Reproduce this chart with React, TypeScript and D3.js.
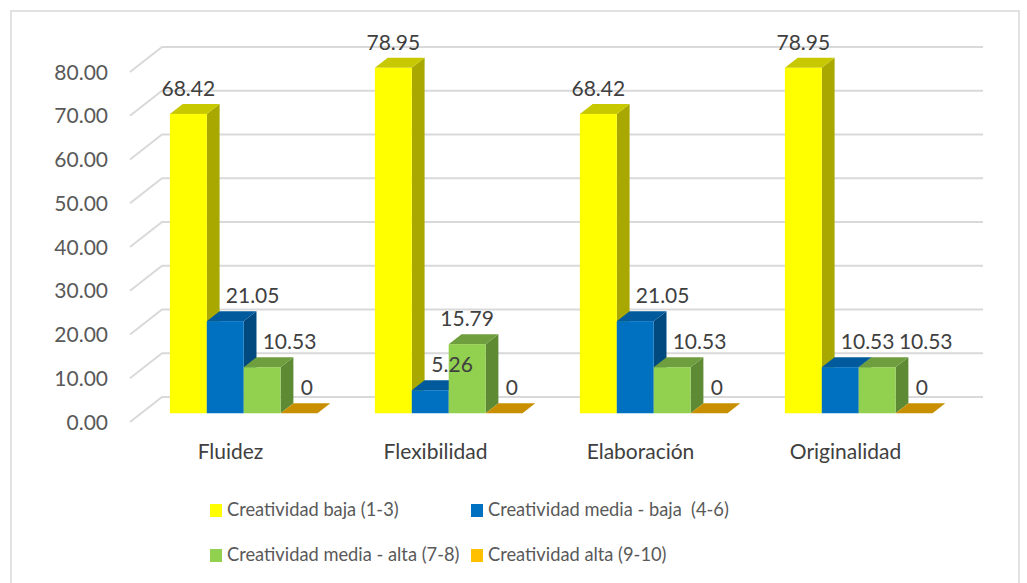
import React from 'react'
import * as d3 from 'd3'

const categories = ['Fluidez', 'Flexibilidad', 'Elaboración', 'Originalidad']
const seriesNames = [
  'Creatividad baja (1-3)',
  'Creatividad media - baja  (4-6)',
  'Creatividad media - alta (7-8)',
  'Creatividad alta (9-10)',
]
const baja = [68.42, 78.95, 68.42, 78.95]
const mediaBaja = [21.05, 5.26, 21.05, 10.53]
const mediaAlta = [10.53, 15.79, 10.53, 10.53]
const alta = [0, 0, 0, 0]
const yTicks = [0, 10, 20, 30, 40, 50, 60, 70, 80]

const seriesValues = [baja, mediaBaja, mediaAlta, alta]
const colors = [
  { front: '#FFFF00', side: '#A8A800', top: '#C8C800' },
  { front: '#0070C0', side: '#004A80', top: '#005A9C' },
  { front: '#92D050', side: '#5E8A34', top: '#6F9E3E' },
  { front: '#FFC000', side: '#A07800', top: '#C89000' },
]

const W = 1027
const H = 583
const plotLeft = 130
const plotRight = 950
const depthX = 32
const depthY = -25
const barFront = 0.35
const barDepth = 0.4
const fontFam = 'Lato, "Open Sans", sans-serif'
const labelSize = 21

export default function App() {
  const y = d3.scaleLinear().domain([0, 80]).range([422, 72])
  const x = d3.scaleBand<string>().domain(categories).range([plotLeft, plotRight]).paddingInner(0.28).paddingOuter(0.14)
  const xs = d3.scaleBand<number>().domain([0, 1, 2, 3]).range([0, x.bandwidth()])

  const fx = barFront * depthX
  const fy = barFront * depthY
  const bx = barDepth * depthX
  const by = barDepth * depthY
  const charW = labelSize * 0.53

  const bars: React.ReactNode[] = []
  const labels: React.ReactNode[] = []

  categories.forEach((cat, ci) => {
    let prev: { right: number; top: number; lRight: number; lTop: number; lBottom: number } | null = null
    seriesValues.forEach((vals, si) => {
      const v = vals[ci]
      const x0 = (x(cat) ?? 0) + xs(si)! + fx
      const x1 = x0 + xs.bandwidth()
      const yb = y(0) + fy
      const yt = y(v) + fy
      const c = colors[si]
      bars.push(
        <g key={`b${ci}-${si}`}>
          {v > 0 && (
            <polygon
              points={`${x1},${yb} ${x1 + bx},${yb + by} ${x1 + bx},${yt + by} ${x1},${yt}`}
              fill={c.side}
            />
          )}
          <polygon
            points={`${x0},${yt} ${x1},${yt} ${x1 + bx},${yt + by} ${x0 + bx},${yt + by}`}
            fill={c.top}
          />
          {v > 0 && <rect x={x0} y={yt} width={x1 - x0} height={yb - yt} fill={c.front} />}
        </g>
      )

      // data label: centred over the bar, pushed right to clear the neighbour on its left
      const text = v === 0 ? '0' : v.toFixed(2)
      const tw = text.length * charW - (text.includes('.') ? charW * 0.5 : 0)
      const base = yt + by - 8
      const lTop = base - labelSize * 0.72
      let left = (x0 + x1) / 2 - tw / 2
      if (prev) {
        if (prev.top < base) left = Math.max(left, prev.right + 8)
        const vOverlap = !(base < prev.lTop || lTop > prev.lBottom)
        if (vOverlap) left = Math.max(left, prev.lRight + 8)
      }
      labels.push(
        <text key={`l${ci}-${si}`} x={left + tw / 2} y={base} textAnchor="middle" fontSize={labelSize} fill="#404040" fontFamily={fontFam}>
          {text}
        </text>
      )
      prev = { right: x1 + bx, top: yt + by, lRight: left + tw, lTop, lBottom: base }
    })
  })

  return (
    <svg width={W} height={H} style={{ position: 'absolute', left: 0, top: 0, background: '#fff' }}>
      <rect x={11} y={11} width={1008} height={600} fill="#fff" stroke="#d9d9d9" strokeWidth={1.5} />
      <g stroke="#d9d9d9" strokeWidth={2} fill="none">
        {yTicks.map(t => (
          <polyline
            key={t}
            points={`${plotLeft},${y(t)} ${plotLeft + depthX},${y(t) + depthY} ${plotRight + depthX + 1},${y(t) + depthY}`}
          />
        ))}
      </g>
      <g fontFamily={fontFam} fontSize={21} fill="#595959" textAnchor="end">
        {yTicks.map(t => (
          <text key={t} x={108} y={y(t)} dy="0.36em">
            {t.toFixed(2)}
          </text>
        ))}
      </g>
      {bars}
      {labels}
      <g fontFamily={fontFam} fontSize={21} fill="#404040" textAnchor="middle">
        {categories.map(cat => (
          <text key={cat} x={(x(cat) ?? 0) + x.bandwidth() / 2 - 2} y={459}>
            {cat}
          </text>
        ))}
      </g>
      <g fontFamily={fontFam} fontSize={18.3} fill="#595959">
        {seriesNames.map((name, i) => {
          const lx = i % 2 === 0 ? 210 : 471
          const ly = i < 2 ? 510 : 555
          return (
            <g key={name}>
              <rect x={lx} y={ly - 6} width={12} height={13} fill={colors[i].front} />
              <text x={lx + 17} y={ly} dy="0.35em" style={{ whiteSpace: 'pre' }}>
                {name}
              </text>
            </g>
          )
        })}
      </g>
    </svg>
  )
}
